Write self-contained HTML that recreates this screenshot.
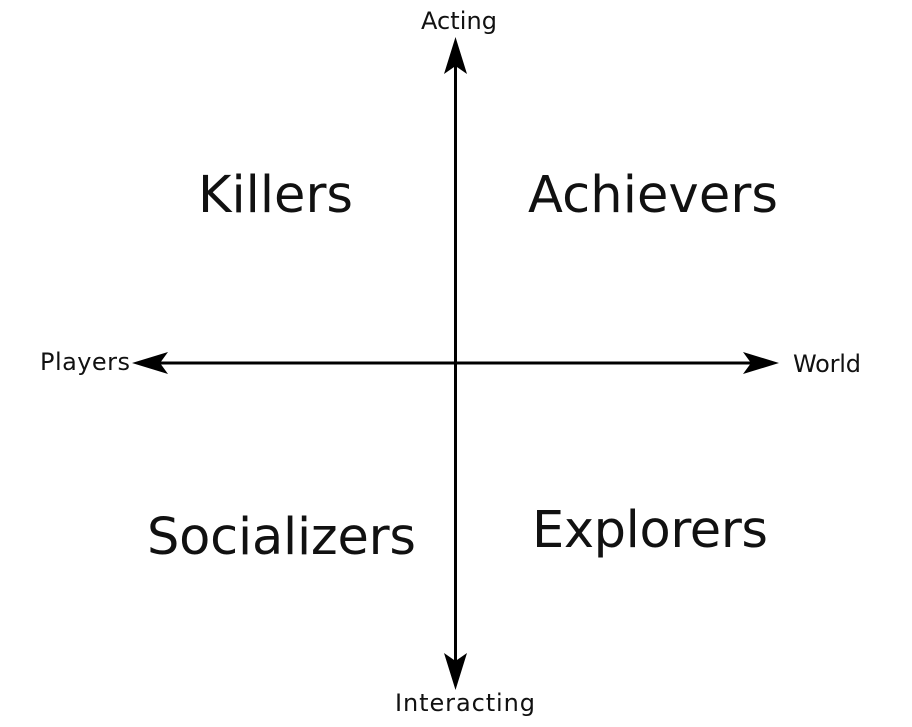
<!DOCTYPE html>
<html><head><style>
html,body{margin:0;padding:0;background:#fff;width:912px;height:727px;overflow:hidden}
svg text{font-family:"DejaVu Sans","Liberation Sans",sans-serif;fill:#111}
</style></head><body>
<svg width="912" height="727" viewBox="0 0 912 727">
<g stroke="#000" stroke-width="3" fill="none">
<line x1="455.5" y1="60" x2="455.5" y2="675"/>
<line x1="150" y1="363" x2="765" y2="363"/>
</g>
<g fill="#000">
<path d="M455.5 37 L467 74 L455.5 66 L444 74 Z"/>
<path d="M455.5 690 L467 653 L455.5 661 L444 653 Z"/>
<path d="M132 363 L168 352 L160 363 L168 374 Z"/>
<path d="M779 363 L743 352 L751 363 L743 374 Z"/>
</g>
<text x="459" y="29" font-size="24" text-anchor="middle" textLength="76">Acting</text>
<text x="465" y="711" font-size="24" text-anchor="middle" textLength="140">Interacting</text>
<text x="40" y="370" font-size="24" textLength="90">Players</text>
<text x="793" y="372" font-size="24" textLength="68">World</text>
<text x="198" y="212" font-size="51" textLength="155">Killers</text>
<text x="528" y="212" font-size="51" textLength="250">Achievers</text>
<text x="147" y="554" font-size="51" textLength="269">Socializers</text>
<text x="532" y="547" font-size="51" textLength="236">Explorers</text>
</svg>
</body></html>
